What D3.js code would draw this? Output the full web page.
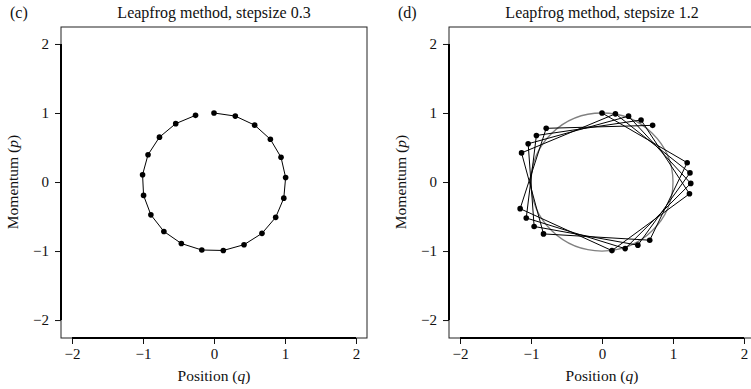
<!DOCTYPE html>
<html><head><meta charset="utf-8">
<script src="https://cdn.jsdelivr.net/npm/d3@7"></script>
<style>
body{margin:0;background:#fff;}
svg text{font-family:"Liberation Serif","DejaVu Serif",serif;fill:#111;}
</style></head>
<body><svg id="c" width="751" height="389"></svg>
<script>
// Leapfrog trajectories (position q, momentum p)
const qSmall = [0, 0.300, 0.573, 0.794, 0.944, 1.009, 0.983, 0.869, 0.676, 0.423, 0.131, -0.172, -0.460, -0.706, -0.889, -0.992, -1.006, -0.929, -0.768, -0.539, -0.260];
const pSmall = [1, 0.955, 0.824, 0.619, 0.358, 0.065, -0.234, -0.512, -0.744, -0.908, -0.992, -0.985, -0.891, -0.716, -0.476, -0.194, 0.106, 0.396, 0.650, 0.846, 0.966];
const qLarge = [0, 1.200, 0.672, -0.824, -1.133, 0.189, 1.239, 0.505, -0.956, -1.040, 0.374, 1.250, 0.326, -1.067, -0.924, 0.550, 1.232, 0.140, -1.153, -0.786, 0.713];
const pLarge = [1, 0.280, -0.843, -0.752, 0.422, 0.988, 0.132, -0.915, -0.644, 0.554, 0.954, -0.020, -0.965, -0.521, 0.674, 0.898, -0.171, -0.994, -0.386, 0.778, 0.821];
const ticks = [-2, -1, 0, 1, 2];
const panelLabels = ["(c)", "(d)"];
const titles = ["Leapfrog method, stepsize 0.3", "Leapfrog method, stepsize 1.2"];
const xLabel = "Position";
const yLabel = "Momentum";

const svg = d3.select("#c");
const panels = [
  {left: 61, q: qSmall, p: pSmall, circle: false},
  {left: 449, q: qLarge, p: pLarge, circle: true}
];
const plotTop = 27, plotBottom = 338, plotWidth = 306;

panels.forEach((P, i) => {
  const x = d3.scaleLinear().domain([-2.155, 2.155]).range([P.left, P.left + plotWidth]);
  const y = d3.scaleLinear().domain([-2.26, 2.246]).range([plotBottom, plotTop]);
  const g = svg.append("g");

  g.append("rect").attr("x", P.left).attr("y", plotTop).attr("width", plotWidth).attr("height", plotBottom - plotTop)
    .attr("fill", "none").attr("stroke", "#222").attr("stroke-width", 1);

  const xa = g.append("g").attr("transform", `translate(0,${plotBottom})`)
    .call(d3.axisBottom(x).tickValues(ticks).tickSize(6).tickPadding(4).tickFormat(d3.format("d")));
  const ya = g.append("g").attr("transform", `translate(${P.left},0)`)
    .call(d3.axisLeft(y).tickValues(ticks).tickSize(6).tickPadding(6).tickFormat(d3.format("d")));
  [xa, ya].forEach(a => {
    a.select(".domain").remove();
    a.selectAll(".tick line").attr("stroke", "#111").attr("stroke-width", 1);
    a.selectAll(".tick text").attr("font-size", 15).attr("fill", "#111")
      .style("font-family", '"Liberation Serif","DejaVu Serif",serif');
  });
  g.append("line").attr("x1", x(-2)).attr("x2", x(2)).attr("y1", plotBottom).attr("y2", plotBottom)
    .attr("stroke", "#000").attr("stroke-width", 2);
  g.append("line").attr("x1", P.left).attr("x2", P.left).attr("y1", y(-2)).attr("y2", y(2))
    .attr("stroke", "#000").attr("stroke-width", 2);

  if (P.circle) {
    g.append("ellipse").attr("cx", x(0)).attr("cy", y(0))
      .attr("rx", x(1) - x(0)).attr("ry", y(0) - y(1))
      .attr("fill", "none").attr("stroke", "#808080").attr("stroke-width", 1.3);
  }

  const pts = P.q.map((v, k) => [v, P.p[k]]);
  const line = d3.line().x(d => x(d[0])).y(d => y(d[1]));
  g.append("path").attr("d", line(pts)).attr("fill", "none").attr("stroke", "#000").attr("stroke-width", 1);
  g.selectAll("circle.pt").data(pts).enter().append("circle").attr("class", "pt")
    .attr("cx", d => x(d[0])).attr("cy", d => y(d[1])).attr("r", 2.8).attr("fill", "#000");

  g.append("text").attr("x", x(0)).attr("y", 18).attr("text-anchor", "middle").attr("font-size", 16).text(titles[i]);
  g.append("text").attr("x", P.left - 51).attr("y", 18).attr("font-size", 16).text(panelLabels[i]);
  const xl = g.append("text").attr("x", x(0)).attr("y", 381).attr("text-anchor", "middle").attr("font-size", 15.5);
  xl.append("tspan").text(xLabel + " (");
  xl.append("tspan").attr("font-style", "italic").text("q");
  xl.append("tspan").text(")");
  const yl = g.append("text").attr("transform", `translate(${P.left - 43},${y(0)}) rotate(-90)`)
    .attr("text-anchor", "middle").attr("font-size", 15.5);
  yl.append("tspan").text(yLabel + " (");
  yl.append("tspan").attr("font-style", "italic").text("p");
  yl.append("tspan").text(")");
});
</script></body></html>
